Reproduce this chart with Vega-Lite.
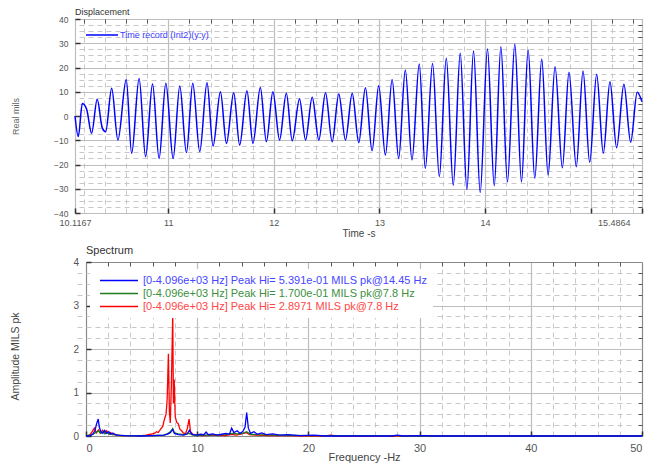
{
  "$schema": "https://vega.github.io/schema/vega-lite/v6.json",
  "padding": {"left": 10, "top": 7, "right": 9, "bottom": 0},
  "spacing": 5,
  "config": {
    "font": "Liberation Sans",
    "view": {"stroke": "#8a8a8a"},
    "axis": {"labelColor": "#555555", "titleColor": "#444444", "titleFontWeight": "normal", "domain": false}
  },
  "resolve": {"scale": {"color": "independent"}, "legend": {"color": "independent"}},
  "datasets": {
    "ts": [
      {"t": 10.1167, "v": 0}, {"t": 10.148, "v": -8.5}, {"t": 10.186, "v": 5.2}, {"t": 10.227, "v": 2.8},
      {"t": 10.274, "v": -7.1}, {"t": 10.327, "v": 6.9}, {"t": 10.375, "v": -4.9}, {"t": 10.407, "v": -6.5},
      {"t": 10.464, "v": 11.4}, {"t": 10.523, "v": -9.9}, {"t": 10.602, "v": 15.1}, {"t": 10.653, "v": -15.4},
      {"t": 10.724, "v": 15.5}, {"t": 10.785, "v": -16.8}, {"t": 10.851, "v": 13.2}, {"t": 10.913, "v": -17.5},
      {"t": 10.977, "v": 13.5}, {"t": 11.046, "v": -17.5}, {"t": 11.109, "v": 12.4}, {"t": 11.172, "v": -15.1},
      {"t": 11.232, "v": 13.5}, {"t": 11.298, "v": -14.7}, {"t": 11.367, "v": 13.7}, {"t": 11.424, "v": -12.4},
      {"t": 11.494, "v": 10.0}, {"t": 11.551, "v": -11.3}, {"t": 11.620, "v": 9.6}, {"t": 11.676, "v": -12.0},
      {"t": 11.745, "v": 10.4}, {"t": 11.802, "v": -11.3}, {"t": 11.872, "v": 11.8}, {"t": 11.929, "v": -10.6},
      {"t": 11.991, "v": 10.0}, {"t": 12.054, "v": -9.9}, {"t": 12.118, "v": 9.4}, {"t": 12.174, "v": -10.2},
      {"t": 12.243, "v": 7.0}, {"t": 12.300, "v": -9.9}, {"t": 12.363, "v": 7.7}, {"t": 12.426, "v": -9.9},
      {"t": 12.489, "v": 9.6}, {"t": 12.552, "v": -10.6}, {"t": 12.615, "v": 9.1}, {"t": 12.678, "v": -9.9},
      {"t": 12.742, "v": 9.4}, {"t": 12.804, "v": -11.0}, {"t": 12.867, "v": 11.7}, {"t": 12.930, "v": -14.3},
      {"t": 12.993, "v": 12.5}, {"t": 13.056, "v": -16.1}, {"t": 13.120, "v": 15.1}, {"t": 13.182, "v": -17.5},
      {"t": 13.245, "v": 19.0}, {"t": 13.308, "v": -18.1}, {"t": 13.377, "v": 21.4}, {"t": 13.434, "v": -21.6},
      {"t": 13.503, "v": 21.7}, {"t": 13.567, "v": -25.0}, {"t": 13.633, "v": 23.8}, {"t": 13.699, "v": -28.5},
      {"t": 13.765, "v": 25.9}, {"t": 13.828, "v": -30.3}, {"t": 13.891, "v": 26.8}, {"t": 13.954, "v": -31.5},
      {"t": 14.023, "v": 27.6}, {"t": 14.087, "v": -28.7}, {"t": 14.150, "v": 28.6}, {"t": 14.212, "v": -27.1},
      {"t": 14.282, "v": 29.6}, {"t": 14.345, "v": -27.1}, {"t": 14.408, "v": 27.2}, {"t": 14.471, "v": -25.7},
      {"t": 14.537, "v": 23.5}, {"t": 14.597, "v": -24.3}, {"t": 14.663, "v": 20.3}, {"t": 14.732, "v": -21.3},
      {"t": 14.795, "v": 18.0}, {"t": 14.864, "v": -20.9}, {"t": 14.928, "v": 18.6}, {"t": 14.991, "v": -19.1},
      {"t": 15.057, "v": 17.2}, {"t": 15.120, "v": -15.4}, {"t": 15.183, "v": 14.1}, {"t": 15.246, "v": -13.1},
      {"t": 15.315, "v": 13.1}, {"t": 15.379, "v": -10.8}, {"t": 15.441, "v": 9.8}, {"t": 15.4864, "v": 5.9}
    ],
    "sp": [
      {"f": 0, "a": 0, "s": "r"}, {"f": 0.19, "a": 0.01, "s": "r"}, {"f": 0.37, "a": 0.03, "s": "r"}, {"f": 0.56, "a": 0.1, "s": "r"},
      {"f": 0.75, "a": 0.18, "s": "r"}, {"f": 0.93, "a": 0.07, "s": "r"}, {"f": 1.12, "a": 0.14, "s": "r"}, {"f": 1.3, "a": 0.06, "s": "r"},
      {"f": 1.49, "a": 0.13, "s": "r"}, {"f": 1.68, "a": 0.08, "s": "r"}, {"f": 1.86, "a": 0.12, "s": "r"}, {"f": 2.05, "a": 0.05, "s": "r"},
      {"f": 2.23, "a": 0.08, "s": "r"}, {"f": 2.42, "a": 0.03, "s": "r"}, {"f": 2.61, "a": 0.04, "s": "r"}, {"f": 2.8, "a": 0.02, "s": "r"},
      {"f": 3.2, "a": 0.01, "s": "r"}, {"f": 4.1, "a": 0.01, "s": "r"}, {"f": 5.0, "a": 0.01, "s": "r"}, {"f": 5.4, "a": 0.02, "s": "r"},
      {"f": 5.8, "a": 0.04, "s": "r"}, {"f": 6.15, "a": 0.06, "s": "r"}, {"f": 6.35, "a": 0.1, "s": "r"}, {"f": 6.5, "a": 0.08, "s": "r"},
      {"f": 6.7, "a": 0.15, "s": "r"}, {"f": 6.9, "a": 0.22, "s": "r"}, {"f": 7.05, "a": 0.38, "s": "r"}, {"f": 7.2, "a": 0.5, "s": "r"},
      {"f": 7.3, "a": 0.85, "s": "r"}, {"f": 7.41, "a": 1.89, "s": "r"}, {"f": 7.5, "a": 0.55, "s": "r"}, {"f": 7.58, "a": 0.3, "s": "r"},
      {"f": 7.68, "a": 1.2, "s": "r"}, {"f": 7.8, "a": 2.8, "s": "r"}, {"f": 7.86, "a": 0.75, "s": "r"}, {"f": 7.93, "a": 1.3, "s": "r"},
      {"f": 8.02, "a": 0.45, "s": "r"}, {"f": 8.15, "a": 0.32, "s": "r"}, {"f": 8.3, "a": 0.28, "s": "r"}, {"f": 8.45, "a": 0.15, "s": "r"},
      {"f": 8.6, "a": 0.12, "s": "r"}, {"f": 8.75, "a": 0.07, "s": "r"}, {"f": 8.95, "a": 0.05, "s": "r"}, {"f": 9.12, "a": 0.18, "s": "r"},
      {"f": 9.27, "a": 0.39, "s": "r"}, {"f": 9.4, "a": 0.1, "s": "r"}, {"f": 9.6, "a": 0.04, "s": "r"}, {"f": 9.9, "a": 0.02, "s": "r"},
      {"f": 10.5, "a": 0.01, "s": "r"}, {"f": 11.5, "a": 0.02, "s": "r"}, {"f": 12.5, "a": 0.01, "s": "r"}, {"f": 13.1, "a": 0.04, "s": "r"},
      {"f": 13.5, "a": 0.02, "s": "r"}, {"f": 14.0, "a": 0.05, "s": "r"}, {"f": 14.4, "a": 0.08, "s": "r"}, {"f": 14.7, "a": 0.03, "s": "r"},
      {"f": 15.3, "a": 0.02, "s": "r"}, {"f": 16.5, "a": 0.01, "s": "r"}, {"f": 18, "a": 0.01, "s": "r"}, {"f": 20, "a": 0, "s": "r"},
      {"f": 21.5, "a": 0, "s": "r"}, {"f": 22, "a": 0.02, "s": "r"}, {"f": 22.5, "a": 0, "s": "r"}, {"f": 50, "a": 0, "s": "r"},

      {"f": 0, "a": 0, "s": "g"}, {"f": 0.56, "a": 0.03, "s": "g"}, {"f": 0.8, "a": 0.07, "s": "g"}, {"f": 1.0, "a": 0.1, "s": "g"},
      {"f": 1.12, "a": 0.12, "s": "g"}, {"f": 1.3, "a": 0.06, "s": "g"}, {"f": 1.5, "a": 0.1, "s": "g"}, {"f": 1.7, "a": 0.05, "s": "g"},
      {"f": 1.9, "a": 0.08, "s": "g"}, {"f": 2.1, "a": 0.04, "s": "g"}, {"f": 2.4, "a": 0.05, "s": "g"}, {"f": 2.7, "a": 0.02, "s": "g"},
      {"f": 3.2, "a": 0.01, "s": "g"}, {"f": 6, "a": 0.01, "s": "g"}, {"f": 7.0, "a": 0.02, "s": "g"}, {"f": 7.3, "a": 0.05, "s": "g"},
      {"f": 7.55, "a": 0.09, "s": "g"}, {"f": 7.8, "a": 0.17, "s": "g"}, {"f": 7.95, "a": 0.07, "s": "g"}, {"f": 8.3, "a": 0.05, "s": "g"},
      {"f": 8.8, "a": 0.03, "s": "g"}, {"f": 9.3, "a": 0.06, "s": "g"}, {"f": 9.6, "a": 0.02, "s": "g"}, {"f": 11, "a": 0.02, "s": "g"},
      {"f": 12.5, "a": 0.03, "s": "g"}, {"f": 13.2, "a": 0.06, "s": "g"}, {"f": 13.6, "a": 0.05, "s": "g"}, {"f": 14.1, "a": 0.06, "s": "g"},
      {"f": 14.45, "a": 0.1, "s": "g"}, {"f": 14.8, "a": 0.04, "s": "g"}, {"f": 15.5, "a": 0.03, "s": "g"}, {"f": 17, "a": 0.02, "s": "g"},
      {"f": 20, "a": 0.01, "s": "g"}, {"f": 28, "a": 0.01, "s": "g"}, {"f": 28.5, "a": 0, "s": "g"}, {"f": 50, "a": 0, "s": "g"},

      {"f": 0, "a": 0, "s": "b"}, {"f": 0.37, "a": 0.01, "s": "b"}, {"f": 0.6, "a": 0.04, "s": "b"}, {"f": 0.8, "a": 0.12, "s": "b"},
      {"f": 0.95, "a": 0.28, "s": "b"}, {"f": 1.1, "a": 0.39, "s": "b"}, {"f": 1.2, "a": 0.2, "s": "b"}, {"f": 1.35, "a": 0.09, "s": "b"},
      {"f": 1.5, "a": 0.06, "s": "b"}, {"f": 1.68, "a": 0.13, "s": "b"}, {"f": 1.86, "a": 0.06, "s": "b"}, {"f": 2.05, "a": 0.1, "s": "b"},
      {"f": 2.23, "a": 0.04, "s": "b"}, {"f": 2.42, "a": 0.07, "s": "b"}, {"f": 2.61, "a": 0.03, "s": "b"}, {"f": 2.9, "a": 0.02, "s": "b"},
      {"f": 3.5, "a": 0.01, "s": "b"}, {"f": 5, "a": 0, "s": "b"}, {"f": 6, "a": 0.01, "s": "b"}, {"f": 7.0, "a": 0.02, "s": "b"},
      {"f": 7.4, "a": 0.05, "s": "b"}, {"f": 7.6, "a": 0.08, "s": "b"}, {"f": 7.8, "a": 0.15, "s": "b"}, {"f": 7.95, "a": 0.06, "s": "b"},
      {"f": 8.3, "a": 0.03, "s": "b"}, {"f": 8.8, "a": 0.02, "s": "b"}, {"f": 9.1, "a": 0.05, "s": "b"}, {"f": 9.3, "a": 0.13, "s": "b"},
      {"f": 9.5, "a": 0.04, "s": "b"}, {"f": 9.9, "a": 0.02, "s": "b"}, {"f": 10.3, "a": 0.04, "s": "b"}, {"f": 10.6, "a": 0.03, "s": "b"},
      {"f": 10.8, "a": 0.09, "s": "b"}, {"f": 11.0, "a": 0.03, "s": "b"}, {"f": 11.4, "a": 0.05, "s": "b"}, {"f": 11.8, "a": 0.02, "s": "b"},
      {"f": 12.2, "a": 0.04, "s": "b"}, {"f": 12.6, "a": 0.06, "s": "b"}, {"f": 12.9, "a": 0.04, "s": "b"}, {"f": 13.1, "a": 0.18, "s": "b"},
      {"f": 13.3, "a": 0.08, "s": "b"}, {"f": 13.6, "a": 0.12, "s": "b"}, {"f": 13.85, "a": 0.06, "s": "b"}, {"f": 14.1, "a": 0.1, "s": "b"},
      {"f": 14.3, "a": 0.2, "s": "b"}, {"f": 14.45, "a": 0.54, "s": "b"}, {"f": 14.6, "a": 0.18, "s": "b"}, {"f": 14.8, "a": 0.06, "s": "b"},
      {"f": 15.1, "a": 0.1, "s": "b"}, {"f": 15.4, "a": 0.04, "s": "b"}, {"f": 15.8, "a": 0.07, "s": "b"}, {"f": 16.2, "a": 0.03, "s": "b"},
      {"f": 16.8, "a": 0.05, "s": "b"}, {"f": 17.4, "a": 0.02, "s": "b"}, {"f": 18.2, "a": 0.03, "s": "b"}, {"f": 19.2, "a": 0.01, "s": "b"},
      {"f": 20.5, "a": 0.02, "s": "b"}, {"f": 21.5, "a": 0, "s": "b"}, {"f": 27.5, "a": 0, "s": "b"}, {"f": 28, "a": 0.02, "s": "b"},
      {"f": 28.5, "a": 0, "s": "b"}, {"f": 30.5, "a": 0.01, "s": "b"}, {"f": 31, "a": 0, "s": "b"}, {"f": 50, "a": 0, "s": "b"}
    ]
  },
  "vconcat": [
    {
      "width": 567,
      "height": 194,
      "title": {"text": "Displacement", "anchor": "start", "frame": "group", "fontSize": 9, "fontWeight": "normal", "color": "#333333", "offset": -2},
      "data": {"name": "ts"},
      "resolve": {"axis": {"x": "independent", "y": "independent"}},
      "layer": [
        {
          "mark": {"type": "point", "opacity": 0},
          "encoding": {
            "x": {"field": "t", "type": "quantitative", "scale": {"domain": [10.1167, 15.4864], "nice": false, "zero": false},
              "axis": {"orient": "top", "values": [10.2, 10.4, 10.6, 10.8, 11.2, 11.4, 11.6, 11.8, 12.2, 12.4, 12.6, 12.8, 13.2, 13.4, 13.6, 13.8, 14.2, 14.4, 14.6, 14.8, 15.2, 15.4],
                "labels": false, "title": null, "grid": true, "gridColor": "#c8c8c8", "gridDash": [5, 4], "tickSize": -4, "tickColor": "#555555"}},
            "y": {"field": "v", "type": "quantitative", "scale": {"domain": [-40, 40], "nice": false, "zero": false},
              "axis": {"orient": "right", "values": [-37.5, -35, -32.5, -27.5, -25, -22.5, -17.5, -15, -12.5, -7.5, -5, -2.5, 2.5, 5, 7.5, 12.5, 15, 17.5, 22.5, 25, 27.5, 32.5, 35, 37.5],
                "labels": false, "title": null, "grid": true, "gridColor": "#c8c8c8", "gridDash": [5, 4], "tickSize": -4, "tickColor": "#555555"}}
          }
        },
        {
          "mark": {"type": "line", "interpolate": "monotone", "strokeWidth": 1.5},
          "encoding": {
            "x": {"field": "t", "type": "quantitative", "scale": {"domain": [10.1167, 15.4864], "nice": false, "zero": false},
              "axis": {"orient": "bottom", "values": [10.1167, 11, 12, 13, 14, 15, 15.4864],
                "labelExpr": "datum.value == 15 ? '' : toString(datum.value)",
                "labelFontSize": 9, "labelPadding": 10,
                "labelAlign": {"condition": {"test": "datum.value > 15.2", "value": "right"}, "value": "center"},
                "labelOffset": {"condition": {"test": "datum.value > 15.2", "value": -12}, "value": 0},
                "grid": true, "gridColor": "#bdbdbd", "gridWidth": 1.2, "tickSize": -5, "tickWidth": 1.5, "tickColor": "#333333",
                "title": "Time -s", "titleFontSize": 10, "titlePadding": 1}},
            "y": {"field": "v", "type": "quantitative", "scale": {"domain": [-40, 40], "nice": false, "zero": false},
              "axis": {"orient": "left", "values": [-40, -30, -20, -10, 0, 10, 20, 30, 40],
                "labelFontSize": 8.5, "labelPadding": 12,
                "grid": true, "gridColor": "#bdbdbd", "gridWidth": 1.2, "tickSize": -5, "tickWidth": 1.5, "tickColor": "#333333",
                "title": "Real mils", "titleFontSize": 9, "titleColor": "#666666", "titleX": -60, "titleBaseline": "middle"}},
            "color": {"datum": "Time record (Int2)(y:y)", "type": "nominal", "scale": {"range": ["#0000ff"]},
              "legend": {"orient": "none", "legendX": 11, "legendY": 11, "title": null, "symbolType": "M-4,0H4", "symbolSize": 64,
                "symbolOffset": 11, "symbolStrokeWidth": 1.5, "labelFontSize": 9, "labelColor": "#3c3cff", "labelOffset": 13, "padding": 0}}
          }
        }
      ]
    },
    {
      "width": 567,
      "height": 174,
      "view": {"stroke": null},
      "title": {"text": "Spectrum", "anchor": "start", "frame": "group", "dx": 11, "fontSize": 11, "fontWeight": "normal", "color": "#333333", "offset": 1.5},
      "data": {"name": "sp"},
      "resolve": {"axis": {"x": "independent", "y": "independent"}},
      "layer": [
        {
          "mark": {"type": "point", "opacity": 0},
          "encoding": {
            "x": {"field": "f", "type": "quantitative", "scale": {"domain": [0, 50], "range": [11, 567], "nice": false},
              "axis": {"orient": "top", "values": [2, 4, 6, 8, 12, 14, 16, 18, 22, 24, 26, 28, 32, 34, 36, 38, 42, 44, 46, 48],
                "labels": false, "title": null, "grid": true, "gridColor": "#c8c8c8", "gridDash": [5, 4], "tickSize": -4, "tickColor": "#555555"}},
            "y": {"field": "a", "type": "quantitative", "scale": {"domain": [0, 4], "nice": false},
              "axis": {"orient": "right", "values": [0.25, 0.5, 0.75, 1.25, 1.5, 1.75, 2.25, 2.5, 2.75, 3.25, 3.5, 3.75],
                "labels": false, "title": null, "grid": true, "gridColor": "#c8c8c8", "gridDash": [5, 4], "tickSize": -4, "tickColor": "#555555"}}
          }
        },
        {
          "mark": {"type": "line", "strokeWidth": 1.3},
          "encoding": {
            "x": {"field": "f", "type": "quantitative", "scale": {"domain": [0, 50], "range": [11, 567], "nice": false},
              "axis": {"orient": "bottom", "values": [0, 10, 20, 30, 40, 50],
                "labelFontSize": 11, "labelPadding": 11,
                "grid": true, "gridWidth": 1.2,
                "gridColor": {"condition": {"test": "datum.value == 0 || datum.value == 50", "value": "#8a8a8a"}, "value": "#bdbdbd"},
                "tickSize": -5, "tickWidth": 1.5, "tickColor": "#333333",
                "title": "Frequency -Hz", "titleFontSize": 11, "titlePadding": -1.5}},
            "y": {"field": "a", "type": "quantitative", "scale": {"domain": [0, 4], "nice": false},
              "axis": {"orient": "left", "offset": -11, "values": [0, 1, 2, 3, 4],
                "labelFontSize": 10, "labelPadding": 12.5,
                "grid": true, "gridWidth": 1.2,
                "gridColor": {"condition": {"test": "datum.value == 0 || datum.value == 4", "value": "#8a8a8a"}, "value": "#bdbdbd"},
                "tickSize": -5, "tickWidth": 1.5, "tickColor": "#333333",
                "title": "Amplitude MILS pk", "titleFontSize": 10.5, "titleX": -71, "titleY": 94, "titleBaseline": "middle"}},
            "color": {"field": "s", "type": "nominal",
              "scale": {"domain": ["b", "g", "r"], "range": ["#0000ff", "#1e7b1e", "#ff0000"]},
              "legend": {"orient": "none", "legendX": 15, "legendY": 7, "title": null, "fillColor": "#ffffff", "padding": 6,
                "symbolType": "M-4,0H4", "symbolSize": 90, "symbolOffset": 17.5, "symbolStrokeWidth": 1.5, "labelFontSize": 11, "labelOffset": 18.5,
                "labelLimit": 500, "rowPadding": 1,
                "labelExpr": "datum.value == 'b' ? '[0-4.096e+03 Hz] Peak Hi= 5.391e-01 MILS pk@14.45 Hz' : datum.value == 'g' ? '[0-4.096e+03 Hz] Peak Hi= 1.700e-01 MILS pk@7.8 Hz' : '[0-4.096e+03 Hz] Peak Hi= 2.8971 MILS pk@7.8 Hz'",
                "encode": {"labels": {"update": {"fill": {"signal": "datum.value == 'b' ? '#4646ff' : datum.value == 'g' ? '#3d8f3d' : '#ff4646'"}}}}}}
          }
        }
      ]
    }
  ]
}
